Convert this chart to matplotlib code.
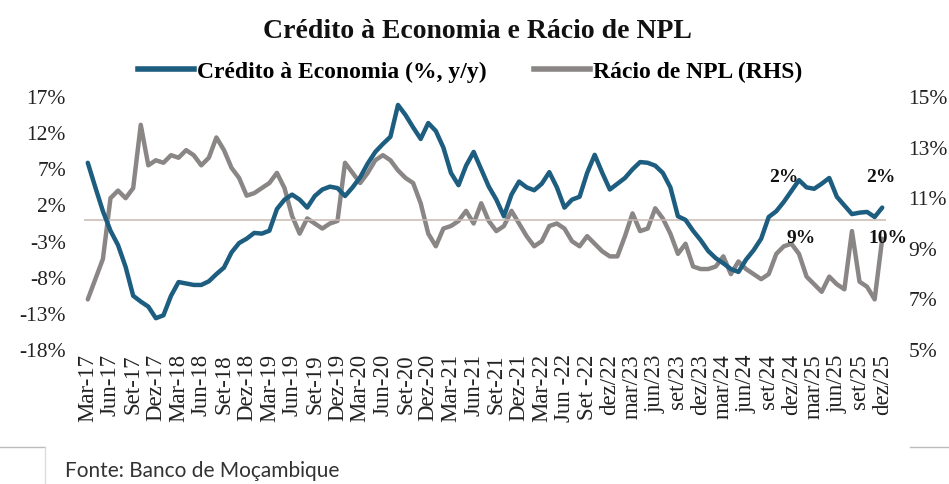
import numpy as np
import matplotlib
matplotlib.use('Agg')
import matplotlib.pyplot as plt
from matplotlib.lines import Line2D

# monthly data, Mar-17 .. dez-25
credito = [7.9, 4.5, 1.2, -1.5, -3.5, -6.5, -10.5, -11.3, -12.0, -13.6,
           -13.2, -10.5, -8.6, -8.8, -9.0, -9.0, -8.5, -7.5, -6.6, -4.5,
           -3.2, -2.6, -1.8, -1.9, -1.5, 1.5, 2.8, 3.5, 2.8, 1.7,
           3.3, 4.2, 4.6, 4.4, 3.3, 4.5, 5.9, 7.8, 9.4, 10.5,
           11.5, 15.9, 14.5, 12.8, 11.2, 13.4, 12.3, 10.0, 6.5, 4.8,
           7.5, 9.4, 7.0, 4.6, 2.8, 0.5, 3.5, 5.3, 4.5, 4.1,
           5.0, 6.6, 4.5, 1.7, 2.8, 3.2, 6.5, 9.0, 6.5, 4.2,
           5.0, 5.8, 7.0, 8.0, 7.9, 7.5, 6.5, 4.5, 0.5, 0.0,
           -1.5, -2.8, -4.3, -5.3, -6.0, -6.8, -7.2, -5.5, -4.2, -2.6,
           0.4, 1.2, 2.5, 4.0, 5.5, 4.5, 4.3, 5.0, 5.8, 3.2,
           2.0, 0.8, 1.0, 1.1, 0.4, 1.7]

npl = [7.0, 7.8, 8.6, 11.0, 11.3, 11.0, 11.4, 13.9, 12.3, 12.5,
       12.4, 12.7, 12.6, 12.9, 12.7, 12.3, 12.6, 13.4, 12.9, 12.2,
       11.8, 11.1, 11.2, 11.4, 11.6, 12.0, 11.4, 10.3, 9.6, 10.2,
       10.0, 9.8, 10.0, 10.1, 12.4, 12.0, 11.6, 12.0, 12.5, 12.7,
       12.5, 12.1, 11.8, 11.6, 10.8, 9.6, 9.1, 9.8, 9.9, 10.1,
       10.5, 10.0, 10.8, 10.1, 9.7, 9.9, 10.5, 10.0, 9.5, 9.1,
       9.3, 9.9, 10.0, 9.8, 9.3, 9.1, 9.5, 9.2, 8.9, 8.7,
       8.7, 9.5, 10.4, 9.7, 9.8, 10.6, 10.2, 9.6, 8.8, 9.2,
       8.3, 8.2, 8.2, 8.3, 8.7, 8.0, 8.5, 8.2, 8.0, 7.8,
       8.0, 8.8, 9.1, 9.2, 8.8, 7.9, 7.6, 7.3, 7.9, 7.6,
       7.4, 9.7, 7.7, 7.5, 7.0, 9.4]

tick_labels = ['Mar-17', 'Jun-17', 'Set-17', 'Dez-17', 'Mar-18', 'Jun-18',
               'Set-18', 'Dez-18', 'Mar-19', 'Jun-19', 'Set-19', 'Dez-19',
               'Mar-20', 'Jun-20', 'Set-20', 'Dez-20', 'Mar-21', 'Jun-21',
               'Set-21', 'Dez-21', 'Mar-22', 'Jun -22', 'Set -22', 'dez/22',
               'mar/23', 'jun/23', 'set/23', 'dez/23', 'mar/24', 'jun/24',
               'set/24', 'dez/24', 'mar/25', 'jun/25', 'set/25', 'dez/25']

BLUE = '#1d5d80'
GRAY = '#8a8685'
SERIF = 'Liberation Serif'

W, H = 949, 484
fig = plt.figure(figsize=(W / 100, H / 100), dpi=100)
ax = fig.add_axes([84 / W, 1 - 350 / H, (886 - 84) / W, (350 - 97) / H])
ax2 = ax.twinx()

x = np.arange(len(credito))
ax.axhline(0, color='#c9bab2', lw=1.1, zorder=1)
ax.plot(x, credito, color=BLUE, lw=3.2, zorder=3, solid_capstyle='round')
ax2.plot(x, npl, color=GRAY, lw=3.2, zorder=2, solid_capstyle='round')
ax.set_zorder(ax2.get_zorder() + 1)
ax.patch.set_visible(False)

ax.set_xlim(-0.5, len(credito) - 0.5)
ax.set_ylim(-18, 17)
ax2.set_ylim(5, 15)
ax.set_yticks(np.arange(-18, 18, 5))
ax.set_yticklabels(['%d%%' % v for v in np.arange(-18, 18, 5)])
ax2.set_yticks(np.arange(5, 16, 2))
ax2.set_yticklabels(['%d%%' % v for v in np.arange(5, 16, 2)])
ax.set_xticks(np.arange(0, len(credito), 3))
ax.set_xticklabels(tick_labels, rotation=90, fontsize=16.5, family=SERIF,
                   color='#222222')

for a in (ax, ax2):
    for s in a.spines.values():
        s.set_visible(False)
    a.tick_params(length=0)
for lab in ax.get_yticklabels():
    lab.set_family(SERIF); lab.set_fontsize(15.5); lab.set_color('#222222')
for lab in ax2.get_yticklabels():
    lab.set_family(SERIF); lab.set_fontsize(15.5); lab.set_color('#222222')
ax.tick_params(axis='y', pad=13)
ax2.tick_params(axis='y', pad=16)
ax.tick_params(axis='x', pad=3)

# data labels
lab_kw = dict(textcoords='offset points', ha='center', va='center',
              family=SERIF, fontsize=14, fontweight='bold', color='#111111')
ax.annotate('2%', xy=(94, credito[94]), xytext=(-11, 2), **lab_kw)
ax.annotate('2%', xy=(105, credito[105]), xytext=(-1, 22), **lab_kw)
ax2.annotate('9%', xy=(93, npl[93]), xytext=(7, 4), **lab_kw)
ax2.annotate('10%', xy=(105, npl[105]), xytext=(4, 0), **lab_kw)

fig.text(0.503, 1 - 32 / H, 'Crédito à Economia e Rácio de NPL', ha='center',
         va='center', family=SERIF, fontsize=20, fontweight='bold',
         color='#111111')

handles = [Line2D([], [], color=BLUE, lw=4),
           Line2D([], [], color=GRAY, lw=4)]
fig.legend(handles, ['Crédito à Economia (%, y/y)', 'Rácio de NPL (RHS)'],
           loc='center', bbox_to_anchor=(0.495, 1 - 72 / H), ncol=2,
           frameon=False, handlelength=2.4, handletextpad=0.1,
           columnspacing=2.0, prop={'family': SERIF, 'weight': 'bold',
                                    'size': 17})

fig.text(65 / W, 1 - 471 / H, 'Fonte: Banco de Moçambique', ha='left',
         va='center', family='Lato', fontsize=15, color='#333333')

# box lines around the source note
fig.add_artist(Line2D([0, 45 / W], [1 - 447 / H] * 2, color='#bbbbbb', lw=1))
fig.add_artist(Line2D([45 / W] * 2, [1 - 447 / H, 0], color='#dddddd', lw=1))
fig.add_artist(Line2D([910 / W, 1], [1 - 447 / H] * 2, color='#bbbbbb', lw=1))

fig.savefig('out.png', dpi=100)
